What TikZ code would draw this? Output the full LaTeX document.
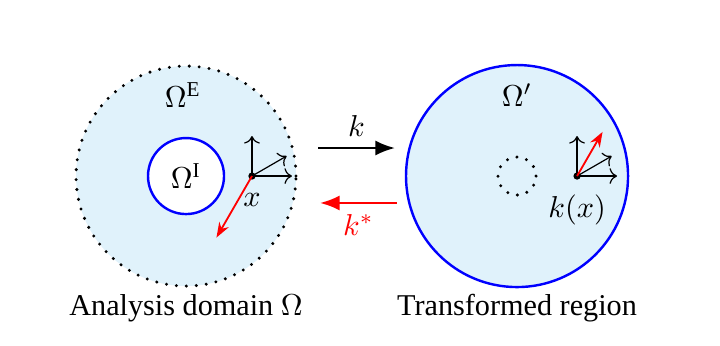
\documentclass[tikz,border=0pt]{standalone}
\usepackage{fontspec}
\setmainfont{Liberation Serif}
\usepackage{xcolor}
\usetikzlibrary{arrows.meta,positioning,calc}
\definecolor{domfill}{RGB}{224,242,251}

\begin{document}
\begin{tikzpicture}[
    every node/.style={font=\normalsize},
    region/.style={circle, fill=domfill, inner sep=0pt},
    dotring/.style={line width=1.1pt, dash pattern=on 0pt off 3.3pt, line cap=round},
    bluering/.style={circle, draw=blue, thick, inner sep=0pt},
    axis/.style={->, thin, black},
    redvec/.style={-{Stealth[length=5pt, width=3.6pt]}, red, semithick},
    mapk/.style={-{Latex[length=6.5pt, width=5pt]}, thick},
    ptdot/.style={circle, fill=black, inner sep=0pt, minimum size=2.4pt},
]

\useasboundingbox (0,0) rectangle (8.372,-4.012);

% ── positions ───────────────────────────────────────────────
\def\xL{2.163}   % analysis domain
\def\xR{6.012}   % transformed region
\def\yC{-2.047}

% ════ ANALYSIS DOMAIN ════════════════════════════════════════
\node[region, dotring, draw=black, minimum size=2.558cm] (ext) at (\xL,\yC) {};
\node[bluering, fill=white, minimum size=0.884cm] (int) at (ext.center) {$\Omega^{\mathrm{I}}$};
\node (extlab) at (2.128,-1.105) {$\Omega^{\mathrm{E}}$};

% point x with its frame
\node[ptdot] (x) at ($(ext.center)+(0.767,0)$) {};
\foreach \a in {0,30,90}{
    \coordinate (xa\a) at ($(x.center)+(\a:0.465)$);
    \draw[axis] (x.center) -- (xa\a);
}
\coordinate (xred) at ($(x.center)+(240:0.826)$);
\draw[redvec] (x.center) -- (xred);
\node (xlab) at ($(x.center)+(0,-0.28)$) {$x$};

\node (anlab) at (\xL,-3.581) {Analysis domain $\Omega$};

% ════ TRANSFORMED REGION ═════════════════════════════════════
\node[region, draw=blue, thick, minimum size=2.582cm] (trans) at (\xR,\yC) {};
\node[circle, dotring, draw=black, inner sep=0pt, minimum size=0.442cm] (hole) at (trans.center) {};
\node (translab) at (\xR,-1.105) {$\Omega'$};

% point k(x) with its frame
\node[ptdot] (kx) at ($(trans.center)+(0.698,0)$) {};
\foreach \a in {0,30,90}{
    \coordinate (ka\a) at ($(kx.center)+(\a:0.465)$);
    \draw[axis] (kx.center) -- (ka\a);
}
\coordinate (kred) at ($(kx.center)+(60:0.593)$);
\draw[redvec] (kx.center) -- (kred);
\node (kxlab) at ($(kx.center)+(0,-0.395)$) {$k(x)$};

\node (trlab) at (\xR,-3.581) {Transformed region};

% ════ MAPS ═══════════════════════════════════════════════════
\coordinate (ktail)  at (3.698,-1.721);
\coordinate (khead)  at (4.593,-1.721);
\coordinate (kstail) at (4.616,-2.360);
\coordinate (kshead) at (3.721,-2.360);
\draw[mapk] (ktail) -- node[above]{$k$} (khead);
\draw[mapk, red] (kstail) -- node[below]{$k^*$} (kshead);

\end{tikzpicture}
\end{document}
